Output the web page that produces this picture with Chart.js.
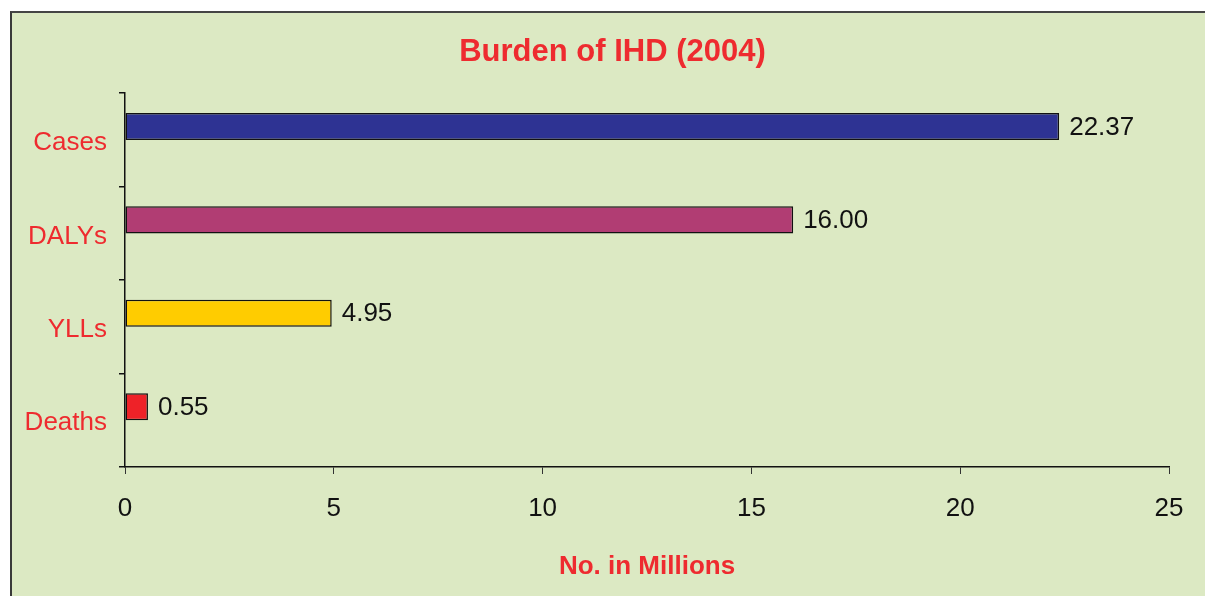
<!DOCTYPE html>
<html>
<head>
<meta charset="utf-8">
<script src="https://cdn.jsdelivr.net/npm/chart.js@4/dist/chart.umd.min.js"></script>
<style>
  html,body{ margin:0; padding:0; background:#fff; overflow:hidden; }
  #frame{ position:absolute; left:10px; top:11px; width:1300px; height:700px;
          background:#dce9c3; border-left:2px solid #3a3a3a; border-top:2px solid #454545; }
  #chart{ position:absolute; left:0; top:0; }
</style>
</head>
<body>
<div id="frame"></div>
<canvas id="chart" width="1205" height="596"></canvas>
<script>
const categories = ['Cases', 'DALYs', 'YLLs', 'Deaths'];
const millions = [22.37, 16.00, 4.95, 0.55];
const xTicks = [0, 5, 10, 15, 20, 25];
const barColors = ['#2e3393', '#b13d73', '#ffcc00', '#ee2228'];

const RED = '#ee2b2f';
const FONT = '"Liberation Sans", Arial, sans-serif';

// numbers printed to the right of each bar
const valueLabels = {
  id: 'valueLabels',
  afterDatasetsDraw(chart){
    const ctx = chart.ctx;
    const meta = chart.getDatasetMeta(0);
    ctx.save();
    ctx.font = '26px ' + FONT;
    ctx.fillStyle = '#111';
    ctx.textAlign = 'left';
    ctx.textBaseline = 'middle';
    meta.data.forEach((bar, i)=>{
      ctx.fillText(millions[i].toFixed(2), bar.x + 10, bar.y + 1);
    });
    ctx.restore();
  }
};

// heading sits a little right of the canvas centre
const titleShift = {
  id: 'titleShift',
  afterLayout(chart){
    if(chart.titleBlock) chart.titleBlock.left += 56;
  }
};

new Chart(document.getElementById('chart'), {
  type: 'bar',
  data: {
    labels: categories,
    datasets: [
      { label: 'No. in Millions', data: millions, backgroundColor: barColors,
        borderColor: '#111', borderWidth: 1.5, borderSkipped: false,
        categoryPercentage: 0.578, barPercentage: 1.0 },
      // empty companion series, keeps the bars in the upper half of each band
      { label: '', data: categories.map(()=>null), backgroundColor: 'transparent',
        categoryPercentage: 0.578, barPercentage: 1.0 }
    ]
  },
  options: {
    indexAxis: 'y',
    responsive: false,
    animation: false,
    layout: { padding: { top: 34, right: 36, bottom: 0, left: 0 } },
    plugins: {
      legend: { display: false },
      tooltip: { enabled: false },
      title: {
        display: true,
        text: 'Burden of IHD (2004)',
        color: RED,
        font: { family: FONT, size: 31, weight: 'bold' },
        padding: { top: 0, bottom: 22 }
      }
    },
    scales: {
      x: {
        type: 'linear',
        min: 0, max: 25,
        afterBuildTicks(scale){ scale.ticks = xTicks.map(v=>({ value: v })); },
        afterFit(scale){ scale.height = 129; },
        grid: { drawOnChartArea: false, drawTicks: true, tickLength: 7, color: '#333', lineWidth: 1 },
        border: { display: true, color: '#111', width: 1.5 },
        ticks: { color: '#111', padding: 19, font: { family: FONT, size: 26 } },
        title: {
          display: true,
          text: 'No. in Millions',
          color: RED,
          font: { family: FONT, size: 26, weight: 'bold' },
          padding: { top: 0, bottom: 14 }
        }
      },
      y: {
        afterFit(scale){ scale.width = 125; },
        grid: { drawOnChartArea: false, drawTicks: true, tickLength: 6, color: '#111', lineWidth: 1.5 },
        border: { display: true, color: '#111', width: 1.5 },
        ticks: { color: RED, padding: 12, labelOffset: 3, font: { family: FONT, size: 26 } }
      }
    }
  },
  plugins: [valueLabels, titleShift]
});
</script>
</body>
</html>
